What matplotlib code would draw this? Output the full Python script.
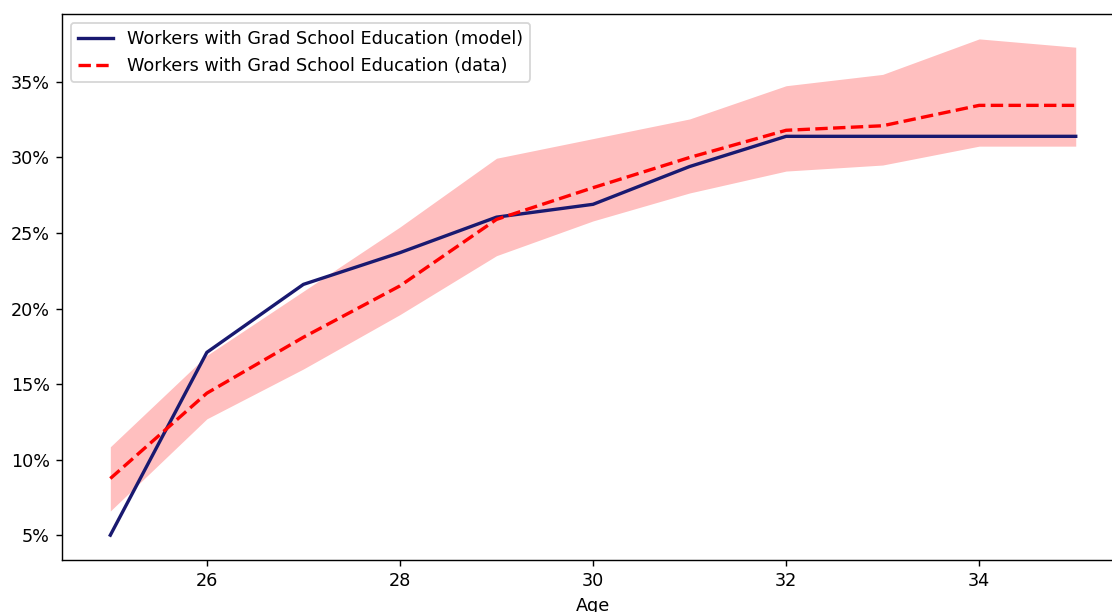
import matplotlib.pyplot as plt
from matplotlib.ticker import PercentFormatter

ages = [25, 26, 27, 28, 29, 30, 31, 32, 33, 34, 35]

# share of workers with grad school education, in percent
model_share = [5.0, 17.1, 21.6, 23.7, 26.05, 26.9, 29.4, 31.4, 31.4, 31.4, 31.4]
data_share = [8.75, 14.4, 18.1, 21.5, 25.9, 28.0, 30.0, 31.8, 32.1, 33.45, 33.45]
data_upper = [10.85, 16.9, 21.15, 25.4, 29.95, 31.25, 32.55, 34.75, 35.5, 37.85, 37.3]
data_lower = [6.6, 12.7, 16.0, 19.6, 23.5, 25.8, 27.65, 29.1, 29.5, 30.75, 30.75]

DPI = 127
fig = plt.figure(figsize=(1112 / DPI, 612 / DPI), dpi=DPI)
ax = fig.add_axes([0.0558, 0.085, 0.955, 0.892])

ax.fill_between(ages, data_lower, data_upper, color="red", alpha=0.25, linewidth=0)
ax.plot(ages, model_share, color="midnightblue", linewidth=1.9,
        label="Workers with Grad School Education (model)")
ax.plot(ages, data_share, color="red", linestyle="--", linewidth=1.9,
        label="Workers with Grad School Education (data)")

ax.yaxis.set_major_formatter(PercentFormatter(decimals=0))
ax.set_xlabel("Age")
ax.legend(loc="upper left")

fig.savefig("out.png", dpi=DPI)
